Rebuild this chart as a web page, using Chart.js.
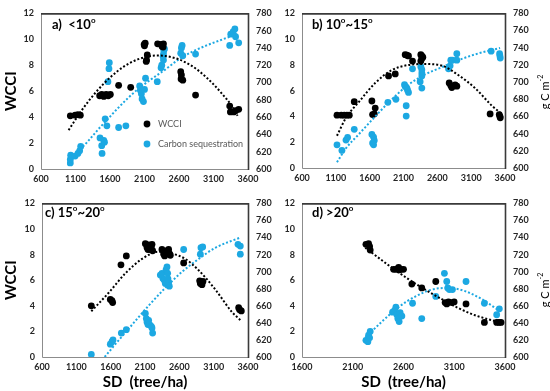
<!DOCTYPE html>
<html><head><meta charset="utf-8">
<script src="https://cdn.jsdelivr.net/npm/chart.js@4/dist/chart.umd.min.js"></script>
<style>
html,body{margin:0;padding:0;background:#fff;}
#wrap{position:relative;width:550px;height:391px;overflow:hidden;background:#fff;}
canvas{position:absolute;}
</style></head><body>
<div id="wrap">
<canvas id="ca" width="275" height="190" style="left:0;top:0"></canvas>
<canvas id="cb" width="275" height="190" style="left:275px;top:0"></canvas>
<canvas id="cc" width="275" height="201" style="left:0;top:190px"></canvas>
<canvas id="cd" width="275" height="201" style="left:275px;top:190px"></canvas>
</div>
<script>
// ---------- Panel a) <10o ----------
const a_wcci_sd = [1025,1095,1135,1170, 1450,1480,1510,1545,1575,1605, 1725,1900, 2095,2110,2100,2140,2130,2125, 2290,2340,2375,2370,2355, 2625,2635,2630,2655, 2840, 3335,3345,3395,3420,3465];
const a_wcci    = [4.1,4.15,4.2,4.15, 5.65,5.75,5.6,5.75,5.65,5.75, 6.45,6.3, 9.6,9.7,9.5,8.8,8.4,8.3, 9.65,9.6,9.65,9.4,9.45, 7.5,7.25,6.95,6.85, 5.7, 4.85,4.4,4.4,4.5,4.6];
const a_carbon_sd = [1025,1025,1030, 1095,1135,1160,1175, 1455,1480,1485,1510,1520, 1590,1585,1570,1530,1555, 1725,1830, 2030,2040,2055,2065,2085,2100,2115, 2285, 2340,2350,2375,2375,2380,2370,2390, 2625,2635,2645,2655, 2840, 3335,3350,3385,3410,3420,3465];
const a_carbon    = [607,611,616, 615,618,621,626, 636,627,618,633,631, 723,716,701,658,650, 648,650, 696,691,687,681,678,692,705, 701, 717,720,726,733,737,730,739, 734,740,743,731, 733, 743,756,759,762,753,746];
const a_wcci_trend_sd = [1000,1200,1400,1600,1800,2000,2200,2300,2400,2600,2800,3000,3200,3400,3450];
const a_wcci_trend    = [3.0,4.6,5.95,7.05,7.9,8.45,8.72,8.75,8.72,8.45,7.9,7.05,5.95,4.6,4.1];
const a_carbon_trend_sd = [990,1130,1280,1420,1570,1710,1860,2000,2200,2400,2600,2800,3000,3200,3400,3465];
const a_carbon_trend    = [604,619,632,645,658,670,682,692,704,715,727,736,743,749,755,757];

// ---------- Panel b) 10o~15o ----------
const b_wcci_sd = [1117,1181,1225,1264,1299, 1372, 1633,1643,1668,1682, 1879,1978, 2125,2150,2174, 2233, 2356,2371,2371,2356,2386, 2775,2799,2814,2863,2888, 3380, 3515,3525,3530];
const b_wcci    = [4.1,4.1,4.1,4.1,4.1, 5.15, 5.2,4.15,4.2,4.65, 7.15,7.3, 8.8,8.75,8.7, 8.3, 8.8,8.7,8.5,8.3,8.6, 6.6,6.4,6.25,6.45,6.35, 4.2, 4.15,4.0,3.9];
const b_carbon_sd = [1117,1190,1250,1274,1372, 1633,1658,1668,1643,1658, 1869,1988, 2115,2125,2150,2160,2174, 2140,2140, 2233, 2346,2371,2371,2371,2371,2356, 2765,2789,2799,2824, 2888,2888, 3395, 3520,3525,3530];
const b_carbon    = [627,620.5,632.5,635.5,645, 639,636,632,629,627, 676.5,680, 697,695,693,690.5,688, 672.5,660.5, 715.5, 700.5,693,707,710.5,714.5,718, 715.5,719,725.5,725.5, 725.5,733, 736, 733,730.5,728];
const b_wcci_trend_sd = [1117,1250,1436,1682,1928,2174,2396,2666,2913,3158,3404,3527];
const b_wcci_trend    = [2.5,3.9,5.1,6.6,7.6,8.0,8.07,7.95,7.2,6.2,4.85,4.3];
const b_carbon_trend_sd = [1117,1250,1436,1682,1928,2174,2420,2666,2913,3158,3527];
const b_carbon_trend    = [606.7,623,639,660,680,697,709,717.4,725.6,732.3,739.8];

// ---------- Panel c) 15o~20o ----------
const c_wcci_sd = [1318, 1595,1619,1629, 1750, 1828, 2105,2129,2143,2153,2178,2202,2192,2211, 2347,2371,2386,2406,2420,2444,2454,2469, 2663, 2896,2906,2930,2944, 3464,3478,3503];
const c_wcci    = [4.0, 4.5,4.4,4.25, 7.2, 7.9, 8.85,8.55,8.4,8.75,8.4,8.8,8.6,8.3, 8.4,8.05,7.9,8.1,8.3,8.4,8.1,7.95, 7.35, 5.95,5.75,5.65,5.9, 3.85,3.7,3.6];
const c_carbon_sd = [1318, 1595,1619,1634, 1755, 1828, 2105,2119,2129,2143,2153,2168,2192,2202,2211, 2323,2347,2361,2381,2396,2406,2420,2430,2444,2454,2435, 2663, 2906,2915,2940, 3454,3488,3488];
const c_carbon    = [603, 615,618,620, 628, 632, 651,645,641,638,643,638,636,634,628, 696,698,692,690,686,702,705.5,698,687,683,691.5, 726, 720.5,728,729, 732,730,720.5];
const c_wcci_trend_sd = [1318,1571,1813,2056,2299,2493,2687,2881,3124,3367,3488];
const c_wcci_trend    = [3.57,5.02,6.53,7.66,8.23,8.08,7.66,6.78,5.27,3.51,2.89];
const c_carbon_trend_sd = [1513,1668,1911,2153,2396,2639,2881,3124,3488];
const c_carbon_trend    = [600,615,637.7,660.2,681,699.8,714.9,728,740];

// ---------- Panel d) >20o ----------
const d_wcci_sd = [2230,2256,2266,2272, 2502,2525,2544,2557,2577,2600,2552, 2682, 2780, 2918, 3010,3026,3043,3076,3099, 3216, 3397, 3518,3541,3561];
const d_wcci    = [8.8,8.85,8.65,8.35, 6.85,6.85,6.9,6.8,6.85,6.85,7.0, 5.7, 5.4, 5.9, 4.25,4.15,4.3,4.25,4.3, 4.15, 2.7, 2.7,2.7,2.7];
const d_carbon_sd = [2230,2249,2266,2272,2256, 2492,2512,2525,2535,2544,2557,2567,2584, 2689, 2780, 2918, 3003, 3026, 3036,3052,3082, 3216, 3397, 3518,3544];
const d_carbon    = [619.5,618,622.5,630,625.5, 652.5,654.5,658.5,649.5,645,641.5,652,648, 663, 645, 671, 698, 688.5, 681,679,679, 688.5, 663, 649.5,656.5];
const d_wcci_trend_sd = [2223,2485,2649,2813,2977,3141,3305,3551];
const d_wcci_trend    = [8.54,6.98,6.08,5.27,4.52,3.82,3.26,2.71];
const d_carbon_trend_sd = [2223,2387,2551,2715,2879,3043,3207,3371,3551];
const d_carbon_trend    = [622.6,641.4,658.4,670.8,679,681,677.2,667.8,653.5];

// ---------- Axis ticks ----------
const wcciTicks = {min:0, max:12, step:2};
const carbonTicks = {min:600, max:780, step:20};
const sdStep = 500;
const legendLabels = ['WCCI','Carbon sequestration'];

const BLACK = '#000000';
const BLUE = '#1ca8e2';
const FONT = "Lato, 'Open Sans', 'Liberation Sans', sans-serif";
Chart.defaults.font.family = FONT;

function pts(xs, ys){ return xs.map((x,i)=>({x:x, y:ys[i]})); }
const plain = v => String(v);

function drawSegs(ctx, x, y, segs, size, weight){
  let cx = x;
  segs.forEach(s=>{
    const fs = s.sup ? Math.round(size*0.62) : size;
    ctx.font = weight + ' ' + fs + 'px ' + FONT;
    ctx.fillText(s.t, cx, s.sup ? y - size*0.38 : y);
    cx += ctx.measureText(s.t).width;
  });
}

const framePlugin = {
  id:'frame',
  afterDatasetsDraw(chart){
    const {ctx, chartArea:{left,right,top,bottom}} = chart;
    ctx.save();
    ctx.lineWidth = 1; ctx.strokeStyle = '#8c8c8c';
    ctx.beginPath(); ctx.moveTo(left+0.5, top); ctx.lineTo(left+0.5, bottom+0.5); ctx.lineTo(right, bottom+0.5); ctx.stroke();
    ctx.lineWidth = 1.6; ctx.strokeStyle = '#3a3a3a';
    ctx.beginPath(); ctx.moveTo(left, top+0.5); ctx.lineTo(right+0.5, top+0.5); ctx.lineTo(right+0.5, bottom+1); ctx.stroke();
    ctx.restore();
  }
};

const extrasPlugin = {
  id:'extras',
  afterDraw(chart, args, o){
    const ctx = chart.ctx;
    ctx.save();
    ctx.fillStyle = '#000';
    ctx.textBaseline = 'middle';
    ctx.textAlign = 'left';
    if (o.label) drawSegs(ctx, o.label.x, o.label.y, o.label.segs, 13, 'bold');
    if (o.rightTitle){
      ctx.translate(o.rightTitle.x, o.rightTitle.y);
      ctx.rotate(-Math.PI/2);
      const segs = [{t:'g C m'},{t:'-2',sup:true}];
      let w = 0;
      segs.forEach(s=>{ ctx.font = 'normal ' + (s.sup?7:11) + 'px ' + FONT; w += ctx.measureText(s.t).width; });
      drawSegs(ctx, -w/2, 0, segs, 11, 'normal');
      ctx.setTransform(1,0,0,1,0,0);
    }
    if (o.legend){
      const L = o.legend;
      [0,1].forEach(i=>{
        const ds = chart.data.datasets[i];
        const yy = L.y + i*L.gap;
        ctx.fillStyle = ds.backgroundColor;
        ctx.beginPath(); ctx.arc(L.x, yy, 3.4, 0, Math.PI*2); ctx.fill();
        ctx.fillStyle = '#595959';
        ctx.font = 'normal 9px ' + FONT;
        ctx.fillText(legendLabels[i], L.x + 11, yy);
      });
    }
    ctx.restore();
  }
};

function panel(id, p){
  const tickFont = {size:9, weight:'bold'};
  const tickColor = '#262626';
  return new Chart(document.getElementById(id), {
    type:'scatter',
    data:{datasets:[
      {label:legendLabels[0], data:pts(p.wsd,p.w), yAxisID:'y', backgroundColor:BLACK, borderWidth:0, pointRadius:3.4, pointHoverRadius:3.4, clip:false, order:3},
      {label:legendLabels[1], data:pts(p.csd,p.c), yAxisID:'y2', backgroundColor:BLUE, borderWidth:0, pointRadius:3.4, pointHoverRadius:3.4, clip:false, order:4},
      {label:'WCCI trend', data:pts(p.wtsd,p.wt), yAxisID:'y', showLine:true, borderColor:BLACK, backgroundColor:BLACK, borderWidth:2, borderDash:[2,2], pointRadius:0, cubicInterpolationMode:'monotone', fill:false, clip:false, order:1},
      {label:'Carbon trend', data:pts(p.ctsd,p.ct), yAxisID:'y2', showLine:true, borderColor:BLUE, backgroundColor:BLUE, borderWidth:2, borderDash:[2,2], pointRadius:0, cubicInterpolationMode:'monotone', fill:false, clip:false, order:2}
    ]},
    options:{
      responsive:false, animation:false, events:[], devicePixelRatio:1,
      layout:{padding:{top:p.top, left:0, right:0, bottom:0}},
      plugins:{legend:{display:false}, tooltip:{enabled:false}, extras:p.extras},
      scales:{
        x:{type:'linear', min:p.xmin, max:p.xmax,
           ticks:{stepSize:sdStep, font:tickFont, color:tickColor, padding:5, maxRotation:0, autoSkip:false, callback:plain},
           grid:{display:false, drawTicks:false}, border:{display:false},
           title:{display:!!p.xTitle, text:'SD  (tree/ha)', font:{size:15, weight:'bold'}, color:'#000', padding:{top:0,bottom:0}},
           afterFit(s){ s.height = p.xh; }},
        y:{type:'linear', position:'left', min:wcciTicks.min, max:wcciTicks.max,
           ticks:{stepSize:wcciTicks.step, font:tickFont, color:tickColor, padding:7, callback:plain},
           grid:{display:false, drawTicks:false}, border:{display:false},
           title:{display:!!p.yTitle, text:'WCCI', font:{size:15, weight:'bold'}, color:'#000', padding:{top:2,bottom:0}},
           afterFit(s){ s.width = p.lw; }},
        y2:{type:'linear', position:'right', min:carbonTicks.min, max:carbonTicks.max,
           ticks:{stepSize:carbonTicks.step, font:tickFont, color:tickColor, padding:8, callback:plain},
           grid:{display:false, drawTicks:false}, border:{display:false},
           afterFit(s){ s.width = p.rw; }}
      }
    },
    plugins:[framePlugin, extrasPlugin]
  });
}

panel('ca', {wsd:a_wcci_sd, w:a_wcci, csd:a_carbon_sd, c:a_carbon, wtsd:a_wcci_trend_sd, wt:a_wcci_trend, ctsd:a_carbon_trend_sd, ct:a_carbon_trend,
  xmin:600, xmax:3600, top:8, lw:41, rw:27, xh:21, yTitle:true, xTitle:false,
  extras:{label:{x:52, y:25, segs:[{t:'a)  <10'},{t:'o',sup:true}]}, legend:{x:147, y:124, gap:20}}});
panel('cb', {wsd:b_wcci_sd, w:b_wcci, csd:b_carbon_sd, c:b_carbon, wtsd:b_wcci_trend_sd, wt:b_wcci_trend, ctsd:b_carbon_trend_sd, ct:b_carbon_trend,
  xmin:600, xmax:3600, top:7, lw:27, rw:45, xh:22, yTitle:false, xTitle:false,
  extras:{label:{x:37, y:25, segs:[{t:'b) 10'},{t:'o',sup:true},{t:'~15'},{t:'o',sup:true}]}, rightTitle:{x:270, y:92}}});
panel('cc', {wsd:c_wcci_sd, w:c_wcci, csd:c_carbon_sd, c:c_carbon, wtsd:c_wcci_trend_sd, wt:c_wcci_trend, ctsd:c_carbon_trend_sd, ct:c_carbon_trend,
  xmin:600, xmax:3600, top:7, lw:42, rw:27, xh:34, yTitle:true, xTitle:true,
  extras:{label:{x:45, y:23, segs:[{t:'c) 15'},{t:'o',sup:true},{t:'~20'},{t:'o',sup:true}]}}});
panel('cd', {wsd:d_wcci_sd, w:d_wcci, csd:d_carbon_sd, c:d_carbon, wtsd:d_wcci_trend_sd, wt:d_wcci_trend, ctsd:d_carbon_trend_sd, ct:d_carbon_trend,
  xmin:1600, xmax:3600, top:7, lw:27, rw:45, xh:34, yTitle:false, xTitle:true,
  extras:{label:{x:37, y:23, segs:[{t:'d) >20'},{t:'o',sup:true}]}, rightTitle:{x:270, y:100}}});
</script>
</body></html>
